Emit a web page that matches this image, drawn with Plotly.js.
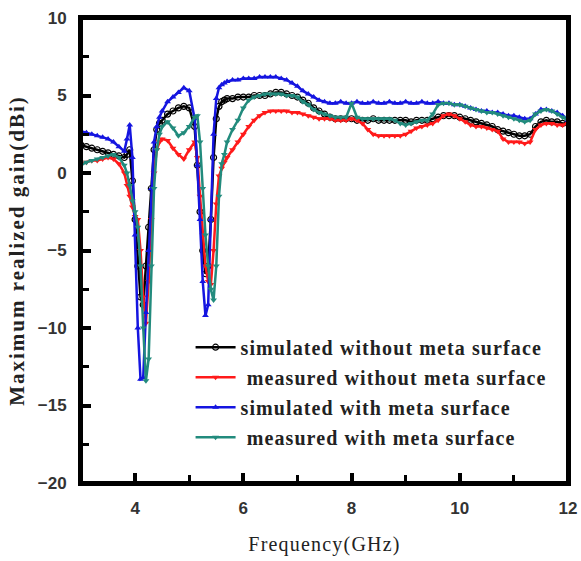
<!DOCTYPE html>
<html>
<head>
<meta charset="utf-8">
<script src="https://cdn.plot.ly/plotly-3.0.1.min.js"></script>
<style>
html,body{margin:0;padding:0;background:#fff;}
#wrap{position:relative;width:581px;height:561px;}
#chart{width:581px;height:561px;}
#chart .legendtext{letter-spacing:1.1px;}
#chart g.legend, #chart g.legend *{clip-path:none !important;}
#chart .ytitle{letter-spacing:2px;}
#chart .xtitle{letter-spacing:1.2px;}
#deco{position:absolute;left:0;top:0;width:581px;height:561px;pointer-events:none;z-index:5;}
#deco div{position:absolute;background:#000;}
#deco div.frame{background:transparent;border:4px solid #000;box-sizing:border-box;}
#err{position:absolute;left:0;top:0;font:10px sans-serif;color:#c00;}
</style>
</head>
<body>
<div id="wrap">
  <div id="chart"></div>
  <div id="deco"></div>
</div>
<div id="err"></div>
<script>
const freq = [
  3.0,3.1,3.2,3.3,3.4,3.5,3.6,3.7,3.8,
  3.85,3.9,3.95,4.0,4.05,4.1,4.15,4.2,4.25,4.3,4.35,4.4,4.45,4.5,
  4.6,4.7,4.8,4.9,5.0,5.1,
  5.15,5.2,5.25,5.3,5.35,5.4,5.45,5.5,5.55,5.6,5.65,5.7,
  5.8,5.9,
  6.0,6.1,6.2,6.3,6.4,6.5,6.6,6.7,6.8,6.9,
  7.0,7.1,7.2,7.3,7.4,7.5,7.6,7.7,7.8,7.9,
  8.0,8.1,8.2,8.3,8.4,8.5,8.6,8.7,8.8,8.9,
  9.0,9.1,9.2,9.3,9.4,9.5,9.6,9.7,9.8,9.9,
  10.0,10.1,10.2,10.3,10.4,10.5,10.6,10.7,10.8,10.9,
  11.0,11.1,11.2,11.3,11.4,11.5,11.6,11.7,11.8,11.9,
  12.0
];

const simWithout = [
  1.8,1.7,1.6,1.5,1.4,1.3,1.2,1.1,1.0,
  1.2,1.5,-0.5,-3.0,-6.0,-8.0,-8.5,-6.0,-3.5,-1.0,1.5,2.8,3.2,3.4,
  3.8,4.0,4.2,4.3,4.2,3.0,
  0.5,-2.5,-5.0,-6.5,-6.0,-3.0,1.0,3.5,4.3,4.6,4.7,4.8,
  4.8,4.9,
  4.9,4.9,5.0,5.0,5.0,5.1,5.2,5.2,5.1,5.0,
  4.9,4.7,4.5,4.2,4.0,3.8,3.6,3.5,3.5,3.5,
  3.5,3.4,3.4,3.4,3.5,3.4,3.4,3.4,3.4,3.4,
  3.4,3.3,3.4,3.4,3.4,3.5,3.6,3.7,3.7,3.7,
  3.6,3.5,3.4,3.3,3.2,3.1,3.0,2.8,2.7,2.6,
  2.5,2.4,2.4,2.5,3.0,3.3,3.4,3.3,3.3,3.2,
  3.2
];

const measWithout = [
  0.6,0.7,0.8,0.8,0.9,1.0,0.9,0.6,0.0,
  -0.8,-1.5,-2.2,-2.8,-3.0,-5.0,-8.0,-9.7,-7.0,-3.0,0.0,1.5,2.0,2.2,
  2.1,1.6,1.2,0.9,1.5,2.0,
  1.0,-1.5,-4.0,-6.0,-7.0,-7.2,-5.0,-2.0,-0.2,0.3,0.7,1.0,
  1.5,2.0,
  2.5,3.0,3.4,3.7,3.9,4.0,4.0,4.0,4.0,3.9,
  3.9,3.8,3.7,3.6,3.5,3.5,3.5,3.4,3.4,3.4,
  3.5,3.4,3.2,2.8,2.5,2.4,2.4,2.4,2.4,2.4,
  2.5,2.7,2.9,3.0,3.1,3.2,3.4,3.7,3.8,3.7,
  3.5,3.3,3.1,3.0,3.0,2.9,2.8,2.7,2.2,2.0,
  2.0,2.0,1.9,2.0,2.8,3.1,3.2,3.2,3.1,3.1,
  3.2
];

const simWith = [
  2.7,2.6,2.5,2.4,2.3,2.2,2.0,1.7,1.4,
  2.2,3.1,1.0,-4.0,-10.0,-13.3,-13.2,-9.0,-5.0,-1.0,2.0,3.0,3.6,4.0,
  4.6,4.9,5.2,5.5,5.3,3.5,
  0.5,-3.0,-7.0,-9.2,-8.5,-3.0,2.5,4.8,5.5,5.7,5.8,5.9,
  6.0,6.0,
  6.1,6.1,6.1,6.2,6.2,6.2,6.2,6.1,6.0,5.8,
  5.6,5.3,5.1,4.9,4.7,4.6,4.5,4.5,4.6,4.5,
  4.5,4.6,4.5,4.5,4.6,4.5,4.5,4.6,4.5,4.5,
  4.6,4.5,4.5,4.6,4.5,4.5,4.6,4.5,4.5,4.4,
  4.4,4.3,4.2,4.1,4.0,4.0,3.9,3.9,3.8,3.7,
  3.7,3.6,3.5,3.5,3.8,4.1,4.1,4.0,3.9,3.7,
  3.4
];

const measWith = [
  0.5,0.7,0.8,0.9,1.0,1.1,1.2,1.0,0.5,
  0.0,-0.8,-1.8,-2.5,-3.5,-6.0,-10.0,-13.4,-12.0,-6.0,-1.0,1.5,2.5,3.0,
  3.3,2.9,2.4,2.6,3.0,3.6,
  3.7,2.0,-1.0,-4.0,-6.0,-7.5,-8.2,-6.0,-1.5,0.6,1.2,2.0,
  2.8,3.4,
  4.2,4.7,4.9,5.0,5.1,5.1,5.1,5.1,5.0,5.0,
  4.9,4.6,4.4,4.1,3.9,3.8,3.7,3.6,3.6,3.6,
  4.5,3.6,3.5,3.5,3.5,3.5,3.5,3.5,3.4,3.2,
  3.1,3.2,3.3,3.4,3.4,3.8,4.4,4.5,4.5,4.4,
  4.4,4.3,4.2,4.1,4.0,3.9,3.9,3.8,3.7,3.6,
  3.5,3.4,3.3,3.4,3.8,4.0,4.1,4.0,3.8,3.6,
  3.4
];

const seriesNames = [
  "simulated without meta surface",
  "\u00a0measured without meta surface",
  "simulated with meta surface",
  "\u00a0measured with meta surface"
];

// axis range and tick positions
const xRange = [3, 12];
const yRange = [-20, 10];
const xMajorTicks = [4, 6, 8, 10];
const xMinorTicks = [5, 7, 9, 11];
const yMajorTicks = [-15, -10, -5, 0, 5];
const yMinorTicks = [-17.5, -12.5, -7.5, -2.5, 2.5, 7.5];

function tr(y, name, color, symbol, open, grp) {
  return {
    x: freq, y: y, name: name, type: "scatter", mode: "lines+markers",
    legendgroup: grp,
    line: {color: color, width: 2.5},
    marker: {color: color, symbol: symbol, size: 6,
      line: {color: color, width: open ? 1.2 : 0}}
  };
}

const data = [
  tr(simWithout, seriesNames[0], "#000000", "circle-open", true, "a"),
  tr(measWithout, seriesNames[1], "#ff1a1a", "triangle-down", false, "b"),
  tr(simWith, seriesNames[2], "#1515e0", "triangle-up", false, "c"),
  tr(measWith, seriesNames[3], "#228b7d", "triangle-down", false, "d")
];

const tickFont = {family: "Liberation Sans, Arial, sans-serif", size: 17, weight: "bold", color: "#333"};

const layout = {
  width: 581, height: 561,
  margin: {l: 81, r: 13, t: 18, b: 78},
  paper_bgcolor: "#fff", plot_bgcolor: "#fff",
  showlegend: true,
  legend: {
    x: 0.225, y: 0.334, xanchor: "left", yanchor: "top",
    bgcolor: "rgba(0,0,0,0)", borderwidth: 0,
    font: {family: "Liberation Serif, Times New Roman, serif", size: 20, weight: "bold", color: "#222"},
    itemwidth: 40, tracegroupgap: 1, traceorder: "grouped"
  },
  xaxis: {
    range: xRange, tickmode: "linear", tick0: 0, dtick: 2,
    ticks: "inside", ticklen: 8, tickwidth: 3, tickcolor: "#000",
    showline: true, linewidth: 3, linecolor: "#000", mirror: true,
    showgrid: false, zeroline: false,
    ticklabelstandoff: 8,
    tickfont: tickFont,
    title: {text: "Frequency(GHz)", standoff: 20,
      font: {family: "Liberation Serif, Times New Roman, serif", size: 20, color: "#222"}}
  },
  yaxis: {
    range: yRange, tickmode: "linear", tick0: 0, dtick: 5,
    ticks: "inside", ticklen: 8, tickwidth: 3, tickcolor: "#000",
    showline: true, linewidth: 3, linecolor: "#000", mirror: true,
    showgrid: false, zeroline: false,
    ticklabelstandoff: 8,
    tickfont: tickFont,
    title: {text: "Maximum realized gain(dBi)", standoff: 8,
      font: {family: "Liberation Serif, Times New Roman, serif", size: 21, weight: "bold", color: "#222"}}
  }
};

// frame and inward tick marks placed with the axes' own scales (overlay)
function drawDeco(gd) {
  const deco = document.getElementById("deco");
  deco.innerHTML = "";
  const xa = gd._fullLayout.xaxis, ya = gd._fullLayout.yaxis;
  const left = xa._offset, top = ya._offset, w = xa._length, h = ya._length;
  const add = (cls, l, t, ww, hh) => {
    const d = document.createElement("div");
    if (cls) d.className = cls;
    d.style.left = Math.round(l) + "px"; d.style.top = Math.round(t) + "px";
    d.style.width = Math.round(ww) + "px"; d.style.height = Math.round(hh) + "px";
    deco.appendChild(d);
  };
  add("frame", left - 2, top - 2, w + 4, h + 4);
  const bottom = top + h;
  xMajorTicks.forEach(v => add("", left + xa.l2p(v) - 2, bottom - 10, 4, 10));
  xMinorTicks.forEach(v => add("", left + xa.l2p(v) - 1.5, bottom - 8, 3, 8));
  yMajorTicks.forEach(v => add("", left, top + ya.l2p(v) - 2, 10, 4));
  yMinorTicks.forEach(v => add("", left, top + ya.l2p(v) - 1.5, 8, 3));
}

try {
  Plotly.newPlot("chart", data, layout, {displayModeBar: false})
    .then(drawDeco)
    .catch(function (e) { document.getElementById("err").textContent = String(e); });
} catch (e) {
  document.getElementById("err").textContent = String(e);
}
</script>
</body>
</html>
